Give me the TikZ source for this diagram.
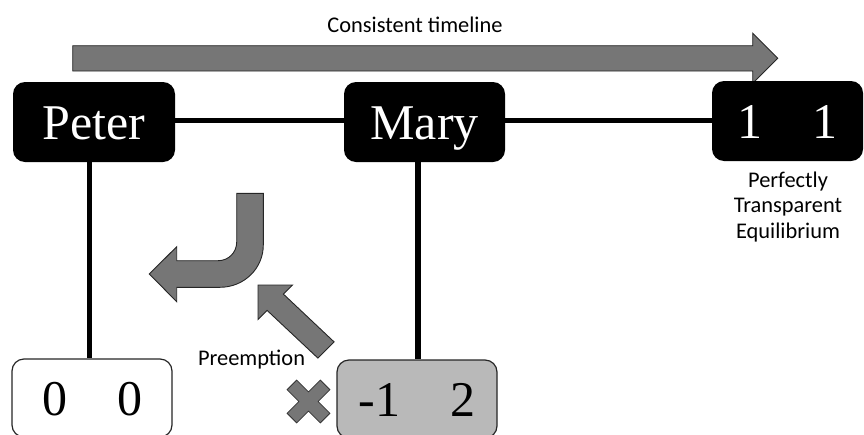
\documentclass[tikz,border=0pt]{standalone}
\usepackage{fontspec}
\newfontfamily\serf{Liberation Serif}
\newfontfamily\sansf{Carlito}
\definecolor{arrowgray}{HTML}{767676}
\definecolor{boxgray}{HTML}{B9B9B9}
\begin{document}
\begin{tikzpicture}[x=1pt,y=-1pt,
  bigtext/.style={font=\serf\fontsize{50}{50}\selectfont, text height=34pt, text depth=0pt, inner sep=0pt, rounded corners=12pt},
  darkbox/.style={bigtext, fill=black, text=white, minimum height=80pt},
  lightbox/.style={bigtext, draw=black!85, line width=1.2pt, minimum height=78pt},
  conn/.style={line width=5.5pt, black},
  lbl/.style={font=\sansf\fontsize{22.4}{24}\selectfont, inner sep=0pt},
  shapefill/.style={fill=arrowgray, draw=black!85, line width=0.9pt, line join=miter}
]
\useasboundingbox (0,0) rectangle (864,434);
\clip (0,0) rectangle (864,434);

% timeline arrow
\draw[shapefill] (72.7,45.7) -- (752.7,45.7) -- (752.7,33.3) -- (777.7,58.3) -- (752.7,83.3) -- (752.7,71) -- (72.7,71) -- cycle;
\node[lbl, anchor=base] (title) at (415,32) {Consistent timeline};

% nodes
\node[darkbox, minimum width=162pt] (peter) at (94,122) {Peter};
\node[darkbox, minimum width=161pt] (mary) at (424.5,122) {Mary};
\node[darkbox, minimum width=151pt] (pte) at (787.5,121) {1\hspace{50pt}1};
\node[lightbox, fill=white, minimum width=160pt] (zero) at (92,398) {0\hspace{50pt}0};
\node[lightbox, fill=boxgray, minimum width=160pt] (neg) at (417,399) {-1\hspace{50pt}2};

% connectors
\draw[conn] ([yshift=1.5pt]peter.east) -- ([yshift=1.5pt]mary.west);
\draw[conn] ([yshift=1.5pt]mary.east) -- ([yshift=1.5pt]mary.east -| pte.west);
\draw[conn] ([xshift=-4.5pt]peter.south) -- ([xshift=-4.5pt]peter.south |- zero.north);
\draw[conn] ([xshift=1pt]neg.north |- mary.south) -- ([xshift=1pt]neg.north);

% labels
\node[lbl, anchor=base] (ptel1) at (788,187) {Perfectly};
\node[lbl, anchor=base] (ptel2) at (788,212.6) {Transparent};
\node[lbl, anchor=base] (ptel3) at (788,238.2) {Equilibrium};
\node[lbl, anchor=base] (pre) at (251.5,365) {Preemption};

% J-shaped return arrow
\draw[shapefill] (236.7,193.3) -- (263.3,193.3) -- (263.3,245)
  .. controls (263.3,268.5) and (244,287.3) .. (220,287.3)
  -- (176.7,287.3) -- (176.7,301.7) -- (149.3,274) -- (176.7,246.7) -- (176.7,260.7)
  -- (218,260.7) .. controls (228.5,260.7) and (236.7,252.5) .. (236.7,242) -- cycle;

% preemption arrow
\draw[shapefill] (258,285) -- (292.5,285) -- (283.4,294.1) -- (334.1,341.9)
  -- (317.9,358.1) -- (267.1,310.4) -- (258,319.5) -- cycle;

% cross
\draw[line width=14.3pt, black!80] (291.6,384.6) -- (325.4,418.4) (325.4,384.6) -- (291.6,418.4);
\draw[line width=12.7pt, arrowgray] (292.3,385.3) -- (324.7,417.7) (324.7,385.3) -- (292.3,417.7);
\end{tikzpicture}
\end{document}
